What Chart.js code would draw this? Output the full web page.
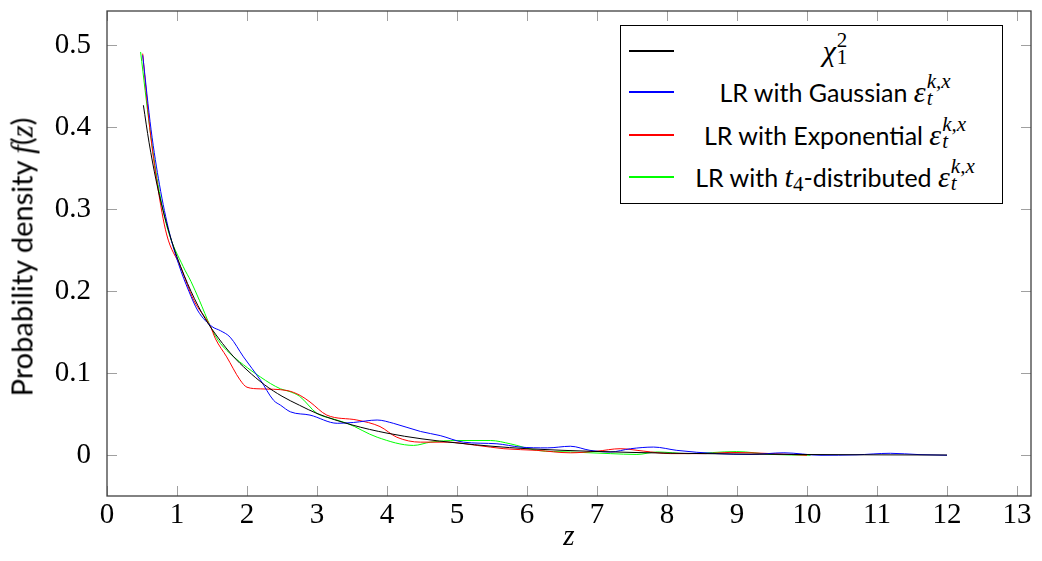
<!DOCTYPE html>
<html>
<head>
<meta charset="utf-8">
<script src="https://cdn.jsdelivr.net/npm/chart.js@4.4.0/dist/chart.umd.min.js"></script>
<style>
    body { margin: 0; background: #fff; }
    #wrap { position: relative; width: 1042px; height: 561px; }
    #legend {
        position: absolute; left: 620px; top: 25px; width: 381px; height: 177px;
        border: 1px solid #000; background: #fff;
        font-family: Lato, "Open Sans", sans-serif; font-size: 25px; color: #000;
    }
    .row { position: absolute; left: 0; width: 100%; height: 40px; }
    .sample { position: absolute; left: 8px; top: 19px; width: 45px; height: 2px; }
    .label { position: absolute; left: 56px; width: 316px; top: 0; height: 40px;
             display: flex; align-items: center; justify-content: center; white-space: nowrap; }
    .m { font-family: "Liberation Serif", "DejaVu Serif", serif; font-style: italic; font-size: 30px; }
    .ss { display: inline-flex; flex-direction: column; vertical-align: middle;
          font-family: "Liberation Serif", serif; font-style: italic; font-size: 21px; line-height: 17px;
          margin-left: 1px; position: relative; top: -2px; }
    .up { font-style: normal; }
    .sub4 { font-family: "Liberation Serif", serif; font-size: 21px; position: relative; top: 7px; }
    #ytitle {
        position: absolute; left: 22px; top: 257px; transform: translate(-50%, -50%) rotate(-90deg);
        font-family: Lato, "Open Sans", sans-serif; font-size: 29px; white-space: nowrap;
    }
    #ytitle i { font-family: "Liberation Serif", serif; font-size: 31px; }
</style>
</head>
<body>
<div id="wrap">
    <canvas id="chart-1" width="1042" height="561"></canvas>
    <div id="ytitle">Probability density <i>f</i>(<i>z</i>)</div>
    <div id="legend">
        <div class="row" style="top:5px"><div class="sample" style="background:#000000"></div>
            <div class="label"><span class="m">χ</span><span class="ss"><span class="up">2</span><span class="up">1</span></span></div></div>
        <div class="row" style="top:46px"><div class="sample" style="background:#0000ff"></div>
            <div class="label">LR with Gaussian&nbsp;<span class="m">ε</span><span class="ss"><span>k,x</span><span>t</span></span></div></div>
        <div class="row" style="top:89px"><div class="sample" style="background:#ff0000"></div>
            <div class="label">LR with Exponential&nbsp;<span class="m">ε</span><span class="ss"><span>k,x</span><span>t</span></span></div></div>
        <div class="row" style="top:131px"><div class="sample" style="background:#00ff00"></div>
            <div class="label">LR with&nbsp;<span class="m">t</span><span class="sub4">4</span>-distributed&nbsp;<span class="m">ε</span><span class="ss"><span>k,x</span><span>t</span></span></div></div>
    </div>
</div>
<script>
// valeurs
const chiZ = [0.52, 0.6, 0.7, 0.8, 0.9, 1.0, 1.2, 1.4, 1.6, 1.8, 2.0, 2.25, 2.5, 2.75, 3.0, 3.5, 4.0, 4.5, 5.0, 5.5, 6.0, 7.0, 8.0, 9.0, 10.0, 11.0, 12.0];
const chiF = [0.427, 0.382, 0.336, 0.299, 0.268, 0.242, 0.200, 0.167, 0.142, 0.121, 0.104, 0.086, 0.072, 0.061, 0.051, 0.037, 0.027, 0.020, 0.015, 0.011, 0.008, 0.0046, 0.0026, 0.0015, 0.0009, 0.0005, 0.0003];

const gaussZ = [0.51, 0.63, 0.75, 0.89, 1.02, 1.17, 1.3, 1.5, 1.62, 1.76, 1.95, 2.19, 2.38, 2.48, 2.62, 2.9, 3.29, 3.52, 3.86, 4.09, 4.48, 4.76, 5.09, 5.57, 5.9, 6.29, 6.62, 6.9, 7.19, 7.48, 7.81, 8.14, 8.71, 9.2, 9.67, 10.2, 10.7, 11.19, 11.6, 12.0];
const gaussF = [0.488, 0.397, 0.33, 0.272, 0.234, 0.200, 0.176, 0.157, 0.152, 0.144, 0.120, 0.092, 0.067, 0.061, 0.053, 0.049, 0.039, 0.040, 0.043, 0.039, 0.029, 0.024, 0.016, 0.014, 0.010, 0.009, 0.011, 0.006, 0.004, 0.008, 0.010, 0.006, 0.002, 0.001, 0.003, 0.0, 0.0005, 0.0024, 0.0008, 0.0];

const expoZ = [0.51, 0.61, 0.72, 0.85, 1.05, 1.24, 1.476, 1.55, 1.71, 1.9, 2.0, 2.19, 2.57, 2.76, 2.9, 3.14, 3.57, 3.9, 4.14, 4.48, 4.86, 5.29, 5.67, 6.14, 6.62, 7.0, 7.33, 7.67, 8.05, 8.55, 8.9, 9.5, 10.0];
const expoF = [0.490, 0.40, 0.33, 0.27, 0.230, 0.189, 0.1575, 0.142, 0.120, 0.092, 0.083, 0.081, 0.079, 0.073, 0.065, 0.049, 0.043, 0.035, 0.022, 0.016, 0.016, 0.012, 0.008, 0.006, 0.003, 0.005, 0.008, 0.005, 0.002, 0.002, 0.0035, 0.002, 0.0];

const t4Z = [0.48, 0.61, 0.73, 0.87, 1.09, 1.2, 1.32, 1.476, 1.59, 1.71, 2.19, 2.48, 2.6, 2.75, 3.0, 3.2, 3.43, 3.86, 4.38, 4.62, 5.0, 5.48, 5.76, 6.14, 6.62, 7.19, 7.57, 7.86, 8.3, 8.99, 9.5, 10.05];
const t4F = [0.492, 0.40, 0.33, 0.275, 0.230, 0.212, 0.189, 0.1575, 0.140, 0.128, 0.0956, 0.081, 0.078, 0.072, 0.051, 0.045, 0.039, 0.022, 0.012, 0.016, 0.018, 0.018, 0.014, 0.006, 0.004, 0.002, 0.001, 0.004, 0.002, 0.0045, 0.001, 0.0];

const xTicks = [0, 1, 2, 3, 4, 5, 6, 7, 8, 9, 10, 11, 12, 13];
const yTicks = [0, 0.1, 0.2, 0.3, 0.4, 0.5];

function toPoints(zs, fs) {
    return zs.map(function(z, i) { return {x: z, y: fs[i]}; });
}

function serie(label, zs, fs, color) {
    return {
        label: label,
        data: toPoints(zs, fs),
        borderColor: color,
        borderWidth: 1,
        pointRadius: 0,
        showLine: true,
        fill: false,
        cubicInterpolationMode: "monotone"
    };
}

// petits traits de graduation vers l'intérieur + cadre
const frame = {
    id: "frame",
    afterDraw: function(chart) {
        const ctx = chart.ctx;
        const a = chart.chartArea;
        const xs = chart.scales.x;
        const ys = chart.scales.y;
        ctx.save();
        ctx.strokeStyle = "#a0a0a0";
        ctx.lineWidth = 1;
        ctx.beginPath();
        xTicks.forEach(function(v) {
            const p = Math.round(xs.getPixelForValue(v)) + 0.5;
            ctx.moveTo(p, a.bottom); ctx.lineTo(p, a.bottom - 10);
            ctx.moveTo(p, a.top); ctx.lineTo(p, a.top + 10);
        });
        yTicks.forEach(function(v) {
            const p = Math.round(ys.getPixelForValue(v)) + 0.5;
            ctx.moveTo(a.left, p); ctx.lineTo(a.left + 10, p);
            ctx.moveTo(a.right, p); ctx.lineTo(a.right - 10, p);
        });
        ctx.stroke();
        ctx.strokeStyle = "#404040";
        ctx.lineWidth = 1.3;
        ctx.strokeRect(a.left, a.top, a.right - a.left, a.bottom - a.top);
        ctx.restore();
    }
};

function noPad(scale) {
    scale.paddingTop = 0;
    scale.paddingBottom = 0;
    scale.paddingLeft = 0;
    scale.paddingRight = 0;
}

const dataChart = {
    datasets: [
        serie("χ²₁", chiZ, chiF, "#000000"),
        serie("LR with Gaussian", gaussZ, gaussF, "#0000ff"),
        serie("LR with Exponential", expoZ, expoF, "#ff0000"),
        serie("LR with t4-distributed", t4Z, t4F, "#00ff00")
    ]
};

const configChart = {
    type: "scatter",
    data: dataChart,
    plugins: [frame],
    options: {
        responsive: false,
        animation: false,
        layout: { padding: { top: 11, right: 11, left: 0, bottom: 0 } },
        plugins: { legend: { display: false }, tooltip: { enabled: false } },
        scales: {
            x: {
                type: "linear",
                min: 0,
                max: 13.2,
                grid: { display: false },
                border: { display: false },
                ticks: {
                    stepSize: 1,
                    includeBounds: false,
                    padding: -6,
                    color: "#000",
                    font: { family: "Liberation Serif", size: 29 }
                },
                title: {
                    display: true,
                    text: "z",
                    color: "#000",
                    padding: { top: 0, bottom: 6 },
                    font: { family: "Liberation Serif", size: 29, style: "italic" }
                },
                afterFit: function(scale) { scale.height = 65; noPad(scale); }
            },
            y: {
                type: "linear",
                min: -0.0497,
                max: 0.542,
                grid: { display: false },
                border: { display: false },
                ticks: {
                    stepSize: 0.1,
                    includeBounds: false,
                    padding: 8,
                    color: "#000",
                    font: { family: "Liberation Serif", size: 29 },
                    callback: function(v) { return Number(v.toFixed(1)).toString(); }
                },
                afterFit: function(scale) { scale.width = 107; noPad(scale); }
            }
        }
    }
};

const chart = new Chart(document.getElementById("chart-1"), configChart);
</script>
</body>
</html>
